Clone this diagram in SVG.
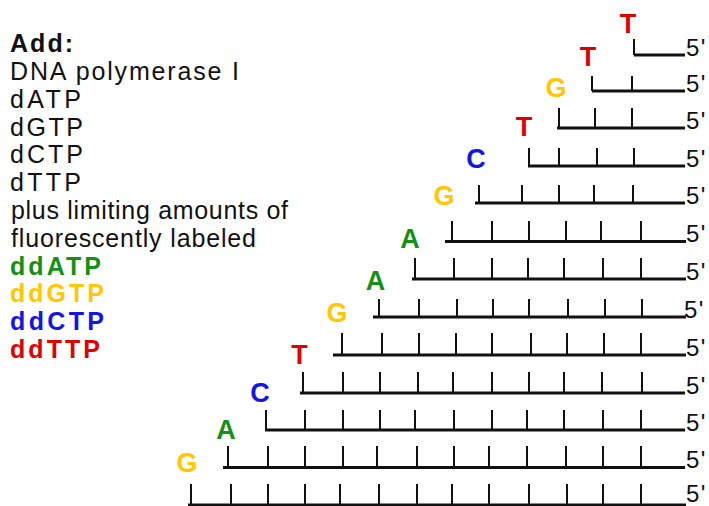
<svg xmlns="http://www.w3.org/2000/svg" width="709" height="506" viewBox="0 0 709 506">
<style>
.t{font-family:"Liberation Sans",Arial,sans-serif;font-size:25px;fill:#111}
.b{font-weight:bold}
.g{fill:#159015}.y{fill:#ffc800}.c{fill:#1414e6}.r{fill:#e00000}
.ln{stroke:#111;stroke-width:3;fill:none}
.tk{stroke:#111;stroke-width:2;fill:none}
.nt{font-family:"Liberation Sans",Arial,sans-serif;font-size:27px;font-weight:bold;text-anchor:middle}
.p{font-family:"Liberation Sans",Arial,sans-serif;font-size:24px;fill:#111;letter-spacing:1.5px}
</style>
<rect width="709" height="506" fill="#fff"/>
<g id="legend">
<text class="t b" x="10" y="52" textLength="63" lengthAdjust="spacing">Add:</text>
<text class="t" x="10" y="80" textLength="229" lengthAdjust="spacing">DNA polymerase I</text>
<text class="t" x="10" y="107.8" textLength="71" lengthAdjust="spacing">dATP</text>
<text class="t" x="10" y="135.6" textLength="73" lengthAdjust="spacing">dGTP</text>
<text class="t" x="10" y="163.4" textLength="73" lengthAdjust="spacing">dCTP</text>
<text class="t" x="10" y="191.2" textLength="71" lengthAdjust="spacing">dTTP</text>
<text class="t" x="11" y="219" textLength="277" lengthAdjust="spacing">plus limiting amounts of</text>
<text class="t" x="11" y="246.8" textLength="245" lengthAdjust="spacing">fluorescently labeled</text>
<text class="t b g" x="10" y="274.6" textLength="91" lengthAdjust="spacing">ddATP</text>
<text class="t b y" x="10" y="302.4" textLength="94" lengthAdjust="spacing">ddGTP</text>
<text class="t b c" x="10" y="330.2" textLength="94" lengthAdjust="spacing">ddCTP</text>
<text class="t b r" x="10" y="358" textLength="90" lengthAdjust="spacing">ddTTP</text>
</g>
<g id="strand-1">
<path class="ln" d="M634 55H685"/>
<path class="tk" d="M634 39V55"/>
<text class="nt r" x="628" y="33">T</text>
<text class="p" x="686" y="56">5'</text>
</g>
<g id="strand-2">
<path class="ln" d="M592 91H685"/>
<path class="tk" d="M592 76V91M632 76V91"/>
<text class="nt r" x="588" y="66">T</text>
<text class="p" x="686" y="92">5'</text>
</g>
<g id="strand-3">
<path class="ln" d="M557 128H685"/>
<path class="tk" d="M559 108V128M595 108V128M632 108V128"/>
<text class="nt y" x="556" y="97">G</text>
<text class="p" x="686" y="129">5'</text>
</g>
<g id="strand-4">
<path class="ln" d="M528 166H685"/>
<path class="tk" d="M529 148V166M559 148V166M597 148V166M634 148V166"/>
<text class="nt r" x="524" y="136">T</text>
<text class="p" x="686" y="167">5'</text>
</g>
<g id="strand-5">
<path class="ln" d="M475 203H685"/>
<path class="tk" d="M479 185V203M522 185V203M559 185V203M594 185V203M633 185V203"/>
<text class="nt c" x="476" y="168">C</text>
<text class="p" x="686" y="204">5'</text>
</g>
<g id="strand-6">
<path class="ln" d="M445 241.5H686"/>
<path class="tk" d="M452 221V241M492 221V241M529 221V241M566 221V241M601 221V241M641 221V241"/>
<text class="nt y" x="444" y="205">G</text>
<text class="p" x="686" y="242">5'</text>
</g>
<g id="strand-7">
<path class="ln" d="M412 279H686"/>
<path class="tk" d="M415 258V279M454 258V279M492 258V279M528 258V279M564 258V279M603 258V279M641 258V279"/>
<text class="nt g" x="410" y="248">A</text>
<text class="p" x="686" y="280">5'</text>
</g>
<g id="strand-8">
<path class="ln" d="M373 317H686"/>
<path class="tk" d="M379 299V317M419 299V317M457 299V317M493 299V317M529 299V317M568 299V317M605 299V317M642 299V317"/>
<text class="nt g" x="375.5" y="290">A</text>
<text class="p" x="684" y="318">5'</text>
</g>
<g id="strand-9">
<path class="ln" d="M333 355H686"/>
<path class="tk" d="M342 333V355M382 333V355M419 333V355M456 333V355M492 333V355M531 333V355M567 333V355M604 333V355M641 333V355"/>
<text class="nt y" x="337" y="322">G</text>
<text class="p" x="686" y="356">5'</text>
</g>
<g id="strand-10">
<path class="ln" d="M300 393H685"/>
<path class="tk" d="M303 372V393M343 372V393M380 372V393M418 372V393M453 372V393M492 372V393M529 372V393M564 372V393M602 372V393M642 372V393"/>
<text class="nt r" x="299.5" y="364">T</text>
<text class="p" x="686" y="394">5'</text>
</g>
<g id="strand-11">
<path class="ln" d="M265 430H685"/>
<path class="tk" d="M266 410V430M305 410V430M343 410V430M380 410V430M415 410V430M454 410V430M492 410V430M527 410V430M564 410V430M603 410V430M641 410V430"/>
<text class="nt c" x="260" y="402">C</text>
<text class="p" x="686" y="431">5'</text>
</g>
<g id="strand-12">
<path class="ln" d="M223 467.5H685"/>
<path class="tk" d="M228 446V467M268 446V467M305 446V467M343 446V467M377 446V467M417 446V467M454 446V467M489 446V467M527 446V467M566 446V467M603 446V467M641 446V467"/>
<text class="nt g" x="226" y="439">A</text>
<text class="p" x="686" y="468">5'</text>
</g>
<g id="strand-13">
<path class="ln" d="M188 505H686"/>
<path class="tk" d="M191 484V505M231 484V505M268 484V505M305 484V505M340 484V505M379 484V505M417 484V505M452 484V505M489 484V505M529 484V505M567 484V505M603 484V505M641 484V505"/>
<text class="nt y" x="187" y="472">G</text>
<text class="p" x="686" y="502">5'</text>
</g>
<g id="connectors"/>
</svg>
